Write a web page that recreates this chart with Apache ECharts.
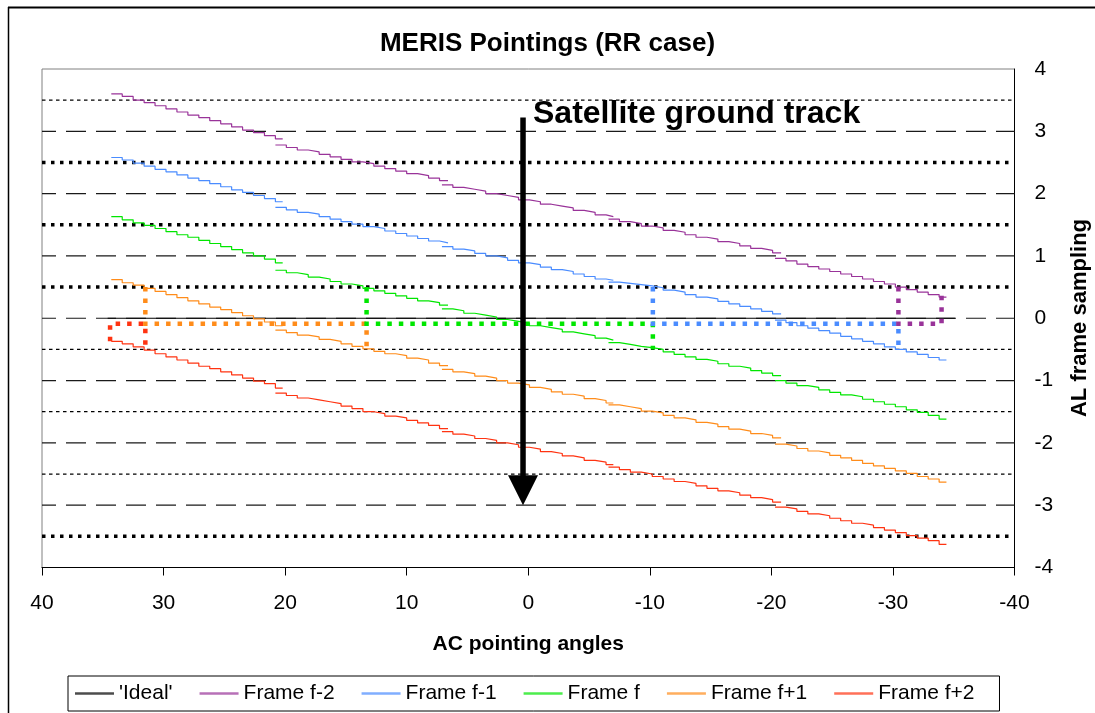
<!DOCTYPE html>
<html><head><meta charset="utf-8">
<script src="https://cdn.jsdelivr.net/npm/echarts@6/dist/echarts.min.js"></script>
<style>html,body{margin:0;padding:0;background:#fff}#c{width:1095px;height:713px}</style>
</head><body><div id="c"></div>
<script>
const FONT = "'Liberation Sans', Arial, Helvetica, sans-serif";

// ---------- data ----------
const seriesNames = ["'Ideal'", 'Frame f-2', 'Frame f-1', 'Frame f', 'Frame f+1', 'Frame f+2'];
const seriesColors = ['#000000', '#993399', '#4A8CFF', '#00E600', '#FF8C1A', '#FF3311'];

// ideal line
const idealAngles = [34.6, -35.1];
const idealValues = [0, 0];

// AC angles of the staircase steps (null = gap between cameras)
const stepAngles = [
  34.3, 33.4, 32.5, 31.6, 30.7, 29.8, 28.9, 28.0, 27.1, 26.2, 25.3, 24.4, 23.5, 22.6, 21.7, 20.8, 20.2, null,
  20.8, 19.9, 19.0, 18.1, 17.2, 16.3, 15.4, 14.5, 13.6, 12.7, 11.8, 10.9, 10.0, 9.1, 8.2, 7.3, 6.6, null,
  7.1, 6.2, 5.3, 4.4, 3.5, 2.6, 1.7, 0.8, -0.1, -1.0, -1.9, -2.8, -3.7, -4.6, -5.5, -6.4, -7.0, null,
  -6.6, -7.5, -8.4, -9.3, -10.2, -11.1, -12.0, -12.9, -13.8, -14.7, -15.6, -16.5, -17.4, -18.3, -19.2, -20.1, -20.8, null,
  -20.3, -21.2, -22.1, -23.0, -23.9, -24.8, -25.7, -26.6, -27.5, -28.4, -29.3, -30.2, -31.1, -32.0, -32.9, -33.8, -34.4
];

const frameFm2 = [
  3.60, 3.56, 3.50, 3.46, 3.41, 3.36, 3.31, 3.26, 3.22, 3.17, 3.12, 3.07, 3.02, 2.98, 2.93, 2.88, 2.88, null,
  2.78, 2.74, 2.70, 2.67, 2.63, 2.59, 2.55, 2.51, 2.48, 2.44, 2.40, 2.36, 2.32, 2.29, 2.25, 2.21, 2.21, null,
  2.14, 2.10, 2.07, 2.04, 2.00, 1.97, 1.94, 1.90, 1.87, 1.83, 1.80, 1.77, 1.73, 1.70, 1.66, 1.63, 1.63, null,
  1.59, 1.55, 1.52, 1.48, 1.45, 1.41, 1.38, 1.34, 1.30, 1.27, 1.23, 1.20, 1.16, 1.12, 1.09, 1.05, 1.05, null,
  0.96, 0.92, 0.87, 0.83, 0.79, 0.75, 0.71, 0.67, 0.63, 0.59, 0.55, 0.50, 0.46, 0.42, 0.38, 0.34, 0.34
];
const frameFm1 = [
  2.58, 2.54, 2.49, 2.44, 2.39, 2.35, 2.30, 2.25, 2.21, 2.16, 2.11, 2.06, 2.02, 1.97, 1.92, 1.87, 1.87, null,
  1.78, 1.74, 1.70, 1.67, 1.63, 1.59, 1.55, 1.51, 1.47, 1.44, 1.40, 1.36, 1.32, 1.28, 1.24, 1.21, 1.21, null,
  1.15, 1.11, 1.08, 1.04, 1.00, 0.97, 0.93, 0.89, 0.86, 0.82, 0.78, 0.75, 0.71, 0.67, 0.63, 0.61, 0.61, null,
  0.58, 0.56, 0.54, 0.52, 0.49, 0.45, 0.42, 0.38, 0.34, 0.31, 0.27, 0.23, 0.19, 0.15, 0.11, 0.07, 0.07, null,
  -0.03, -0.07, -0.12, -0.16, -0.20, -0.24, -0.29, -0.33, -0.37, -0.41, -0.46, -0.50, -0.54, -0.58, -0.63, -0.67, -0.67
];
const frameF = [
  1.63, 1.58, 1.53, 1.49, 1.44, 1.39, 1.34, 1.30, 1.25, 1.20, 1.15, 1.10, 1.05, 1.00, 0.95, 0.89, 0.89, null,
  0.77, 0.73, 0.70, 0.66, 0.63, 0.59, 0.55, 0.52, 0.48, 0.44, 0.40, 0.36, 0.32, 0.28, 0.25, 0.21, 0.21, null,
  0.15, 0.12, 0.08, 0.05, 0.02, -0.02, -0.05, -0.08, -0.12, -0.15, -0.18, -0.22, -0.25, -0.28, -0.32, -0.35, -0.35, null,
  -0.39, -0.42, -0.45, -0.47, -0.50, -0.54, -0.58, -0.62, -0.66, -0.69, -0.73, -0.77, -0.80, -0.84, -0.88, -0.92, -0.92, null,
  -1.00, -1.04, -1.08, -1.11, -1.15, -1.19, -1.23, -1.26, -1.30, -1.34, -1.38, -1.42, -1.47, -1.51, -1.56, -1.62, -1.62
];
const frameFp1 = [
  0.62, 0.57, 0.53, 0.48, 0.43, 0.38, 0.33, 0.28, 0.23, 0.18, 0.14, 0.09, 0.04, -0.01, -0.06, -0.12, -0.12, null,
  -0.19, -0.23, -0.27, -0.30, -0.34, -0.37, -0.41, -0.45, -0.49, -0.53, -0.57, -0.60, -0.64, -0.67, -0.72, -0.76, -0.76, null,
  -0.82, -0.86, -0.89, -0.93, -0.96, -1.00, -1.04, -1.07, -1.11, -1.14, -1.18, -1.22, -1.25, -1.29, -1.32, -1.36, -1.36, null,
  -1.39, -1.42, -1.45, -1.49, -1.52, -1.56, -1.60, -1.63, -1.67, -1.70, -1.74, -1.78, -1.81, -1.85, -1.88, -1.92, -1.92, null,
  -2.02, -2.05, -2.09, -2.13, -2.16, -2.20, -2.24, -2.28, -2.33, -2.37, -2.41, -2.45, -2.49, -2.54, -2.58, -2.63, -2.63
];
const frameFp2 = [
  -0.37, -0.41, -0.46, -0.51, -0.57, -0.62, -0.67, -0.72, -0.77, -0.81, -0.86, -0.91, -0.96, -1.01, -1.05, -1.12, -1.12, null,
  -1.20, -1.24, -1.28, -1.31, -1.34, -1.37, -1.41, -1.45, -1.50, -1.53, -1.57, -1.60, -1.64, -1.68, -1.72, -1.77, -1.77, null,
  -1.82, -1.86, -1.89, -1.93, -1.96, -2.00, -2.03, -2.07, -2.10, -2.14, -2.17, -2.21, -2.24, -2.28, -2.31, -2.35, -2.35, null,
  -2.39, -2.43, -2.47, -2.50, -2.54, -2.58, -2.62, -2.65, -2.69, -2.73, -2.77, -2.80, -2.84, -2.88, -2.91, -2.95, -2.95, null,
  -3.03, -3.06, -3.10, -3.14, -3.17, -3.21, -3.25, -3.29, -3.32, -3.36, -3.40, -3.44, -3.49, -3.53, -3.57, -3.63, -3.63
];

// dotted "frame switch" annotations
const cutAngles = [34.4, 31.5, 13.3, -10.25, -30.45, -34.0];
const cutTop = 0.5, cutMid = -0.09, cutLow = -0.5;
const cutEnds = [-0.37, 0.37];

// gridline levels
const dashLevels = [3, 2, 1, 0, -1, -2, -3];
const fineDotLevels = [3.5, -0.5, -1.5, -2.5];
const boldDotLevels = [2.5, 1.5, 0.5, -3.5];

// arrow (satellite ground track)
const arrowAngle = 0.43;
const arrowTop = 3.22, arrowHead = -2.76;

// ---------- build ----------
const GAP = ['-', '-'];
function zipPts(xs, ys) {
  return xs.map((x, i) => (x === null || ys[i] === null) ? GAP : [x, ys[i]]);
}
function levelLines(levels) {
  const d = [];
  levels.forEach((v, i) => { if (i) d.push(GAP); d.push([40, v], [-40, v]); });
  return d;
}
function gridSeries(levels, style) {
  return { type: 'line', silent: true, symbol: 'none', z: 1, animation: false,
    data: levelLines(levels), lineStyle: Object.assign({ color: '#000', cap: 'butt' }, style) };
}
function cutSeries(color, pts) {
  return { type: 'line', silent: true, symbol: 'none', z: 4, data: pts,
    lineStyle: { color: color, width: 4.5, type: [4.5, 7], cap: 'butt', join: 'miter' } };
}
const frames = [frameFm2, frameFm1, frameF, frameFp1, frameFp2];

const series = [
  gridSeries(dashLevels, { width: 1.2, type: [20, 10], dashOffset: 6, color: '#1a1a1a' }),
  gridSeries(fineDotLevels, { width: 1.3, type: [3.5, 3.5] }),
  gridSeries(boldDotLevels, { width: 3.5, type: [3.5, 5.5] }),
  { name: seriesNames[0], type: 'line', symbol: 'none', z: 2, data: zipPts(idealAngles, idealValues),
    itemStyle: { color: seriesColors[0] }, lineStyle: { color: seriesColors[0], width: 1.2 } }
];
frames.forEach((ys, k) => {
  series.push({ name: seriesNames[k + 1], type: 'line', symbol: 'none', step: 'end', z: 3,
    connectNulls: false, data: zipPts(stepAngles, ys),
    itemStyle: { color: seriesColors[k + 1] }, lineStyle: { color: seriesColors[k + 1], width: 1.2 } });
});
const C = cutAngles;
series.push(
  cutSeries(seriesColors[5], [[C[0], cutEnds[0]], [C[0], cutMid], [C[1], cutMid], [C[1], cutLow]]),
  cutSeries(seriesColors[4], [[C[1], cutTop], [C[1], cutMid], [C[2], cutMid], [C[2], cutLow]]),
  cutSeries(seriesColors[3], [[C[2], cutTop], [C[2], cutMid], [C[3], cutMid], [C[3], cutLow]]),
  cutSeries(seriesColors[2], [[C[3], cutTop], [C[3], cutMid], [C[4], cutMid], [C[4], cutLow]]),
  cutSeries(seriesColors[1], [[C[4], cutTop], [C[4], cutMid], [C[5], cutMid], [C[5], cutEnds[1]]])
);
series.push({
  type: 'line', silent: true, z: 6, showSymbol: true,
  lineStyle: { color: '#000', width: 5.5, cap: 'butt' },
  itemStyle: { color: '#000' },
  data: [
    { value: [arrowAngle, arrowTop], symbol: 'none' },
    { value: [arrowAngle, arrowHead], symbol: 'triangle', symbolSize: [30, 30], symbolRotate: 180 }
  ]
});

const chart = echarts.init(document.getElementById('c'), null, { renderer: 'canvas' });
chart.setOption({
  animation: false,
  backgroundColor: '#fff',
  textStyle: { fontFamily: FONT },
  title: {
    text: 'MERIS Pointings (RR case)', left: 'center', top: 31, padding: 0,
    textStyle: { fontFamily: FONT, fontSize: 26, fontWeight: 'bold', color: '#000' }
  },
  grid: { left: 42, right: 80.5, top: 69, bottom: 145.5, show: true, borderColor: '#808080', borderWidth: 1,
    outerBoundsMode: 'none' },
  legend: {
    data: seriesNames, left: 68, top: 676, orient: 'horizontal',
    icon: 'rect', itemWidth: 39, itemHeight: 2.5, itemGap: 27,
    padding: [7, 25, 7, 7], borderColor: '#000', borderWidth: 1,
    itemStyle: { opacity: 0.7 },
    textStyle: { fontFamily: FONT, fontSize: 21, color: '#000' }
  },
  xAxis: {
    type: 'value', inverse: true, min: -40, max: 40, interval: 10,
    name: 'AC pointing angles', nameLocation: 'middle', nameGap: 66,
    nameTextStyle: { fontFamily: FONT, fontSize: 21, fontWeight: 'bold', color: '#000' },
    axisLine: { show: true, onZero: false, lineStyle: { color: '#000', width: 1 } },
    axisTick: { show: true, length: 8, lineStyle: { color: '#000' } },
    axisLabel: { fontFamily: FONT, fontSize: 21, color: '#000', margin: 25 },
    splitLine: { show: false }
  },
  yAxis: {
    type: 'value', position: 'right', min: -4, max: 4, interval: 1,
    axisLine: { show: true, onZero: false, lineStyle: { color: '#000', width: 1 } },
    axisTick: { show: false },
    axisLabel: { fontFamily: FONT, fontSize: 21, color: '#000', margin: 20 },
    splitLine: { show: false }
  },
  graphic: [
    { type: 'line', shape: { x1: 8, y1: 7.5, x2: 1095, y2: 7.5 }, style: { stroke: '#000', lineWidth: 2 }, z: 100 },
    { type: 'line', shape: { x1: 8.5, y1: 7, x2: 8.5, y2: 713 }, style: { stroke: '#000', lineWidth: 1.5 }, z: 100 },
    { type: 'text', x: 533, y: 114, z: 100,
      style: { text: 'Satellite ground track', fill: '#000', font: 'bold 32px ' + FONT, textAlign: 'left', textVerticalAlign: 'middle' } },
    { type: 'text', x: 1080, y: 318, rotation: Math.PI / 2, z: 100,
      style: { text: 'AL frame sampling', fill: '#000', font: 'bold 22px ' + FONT, textAlign: 'center', textVerticalAlign: 'middle' } }
  ],
  series: series
});
</script></body></html>
